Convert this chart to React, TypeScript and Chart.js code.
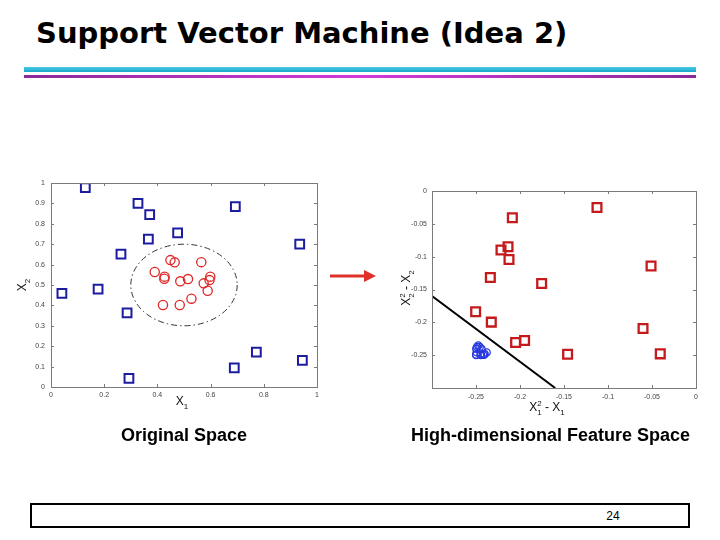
import React, { useEffect, useRef } from "react";
import { Chart, registerables } from "chart.js";
Chart.register(...registerables);

// ---------- data: original space ----------
const origSquareX = [0.129, 0.327, 0.371, 0.693, 0.476, 0.366, 0.263, 0.935, 0.041, 0.177, 0.286, 0.293, 0.689, 0.772, 0.945];
const origSquareY = [0.977, 0.900, 0.845, 0.884, 0.756, 0.725, 0.651, 0.700, 0.459, 0.480, 0.363, 0.042, 0.094, 0.171, 0.130];
const origCircleX = [0.449, 0.465, 0.565, 0.390, 0.427, 0.426, 0.486, 0.515, 0.599, 0.596, 0.574, 0.589, 0.528, 0.421, 0.484];
const origCircleY = [0.622, 0.611, 0.612, 0.564, 0.541, 0.531, 0.518, 0.529, 0.541, 0.524, 0.508, 0.472, 0.433, 0.402, 0.402];
const boundaryCenter = [0.5, 0.5];
const boundaryRadius = 0.2;
const origXTicks = [0, 0.2, 0.4, 0.6, 0.8, 1];
const origYTicks = [0, 0.1, 0.2, 0.3, 0.4, 0.5, 0.6, 0.7, 0.8, 0.9, 1];

// ---------- data: feature space ----------
const featSquareX = [-0.1125, -0.2087, -0.2136, -0.2216, -0.2125, -0.0511, -0.2337, -0.1754, -0.2504, -0.2326, -0.0602, -0.2050, -0.1948, -0.1459, -0.0406];
const featSquareY = [-0.0250, -0.0406, -0.0849, -0.0899, -0.1042, -0.1143, -0.1316, -0.1408, -0.1839, -0.1997, -0.2093, -0.2307, -0.2276, -0.2485, -0.2480];
const featCircleX = [-0.2474, -0.2488, -0.2458, -0.2379, -0.2447, -0.2445, -0.2498, -0.2498, -0.2402, -0.2408, -0.2445, -0.2421, -0.2492, -0.2438, -0.2497];
const featCircleY = [-0.2351, -0.2377, -0.2375, -0.2459, -0.2483, -0.2490, -0.2497, -0.2492, -0.2483, -0.2494, -0.2499, -0.2492, -0.2455, -0.2404, -0.2404];
const separatorX = [-0.3, -0.16];
const separatorY = [-0.16, -0.3];
const featXTicks = [-0.25, -0.2, -0.15, -0.1, -0.05, 0];
const featYTicks = [0, -0.05, -0.1, -0.15, -0.2, -0.25];

const AXIS_FONT = "'Liberation Sans', Arial, sans-serif";

type Seg = [string, number, number][];

function drawRichText(ctx: CanvasRenderingContext2D, segs: Seg[], x: number, y: number, rotate: boolean) {
  ctx.save();
  ctx.translate(x, y);
  if (rotate) ctx.rotate(-Math.PI / 2);
  ctx.fillStyle = "#111";
  ctx.textBaseline = "alphabetic";
  ctx.textAlign = "left";
  const widths = segs.map((seg) =>
    Math.max(...seg.map(([t, s]) => { ctx.font = `${s}px ${AXIS_FONT}`; return ctx.measureText(t).width; }))
  );
  const total = widths.reduce((a, b) => a + b, 0);
  let cx = -total / 2;
  segs.forEach((seg, i) => {
    seg.forEach(([t, s, dy]) => {
      ctx.font = `${s}px ${AXIS_FONT}`;
      ctx.fillText(t, cx, dy);
    });
    cx += widths[i];
  });
  ctx.restore();
}

const framePlugin = {
  id: "frame",
  beforeDatasetsDraw(chart: any, _a: any, opts: any) {
    if (!opts || !opts.ellipse) return;
    const { ctx, scales } = chart;
    const cx = scales.x.getPixelForValue(boundaryCenter[0]);
    const cy = scales.y.getPixelForValue(boundaryCenter[1]);
    const rx = scales.x.getPixelForValue(boundaryCenter[0] + boundaryRadius) - cx;
    const ry = cy - scales.y.getPixelForValue(boundaryCenter[1] + boundaryRadius);
    ctx.save();
    ctx.strokeStyle = "#333";
    ctx.lineWidth = 1;
    ctx.setLineDash([6, 3, 1.5, 3]);
    ctx.beginPath();
    ctx.ellipse(cx, cy, rx, ry, 0, 0, Math.PI * 2);
    ctx.stroke();
    ctx.restore();
  },
  afterDraw(chart: any, _a: any, opts: any) {
    if (!opts || !opts.xTicks) return;
    const { ctx, chartArea, scales } = chart;
    const { left, right, top, bottom } = chartArea;
    ctx.save();
    ctx.strokeStyle = "#7a7a7a";
    ctx.lineWidth = 1;
    ctx.strokeRect(Math.round(left) + 0.5, Math.round(top) + 0.5, Math.round(right - left), Math.round(bottom - top));
    ctx.beginPath();
    opts.xTicks.forEach((v: number) => {
      const px = Math.round(scales.x.getPixelForValue(v)) + 0.5;
      ctx.moveTo(px, bottom); ctx.lineTo(px, bottom - 3);
      ctx.moveTo(px, top); ctx.lineTo(px, top + 3);
    });
    opts.yTicks.forEach((v: number) => {
      const py = Math.round(scales.y.getPixelForValue(v)) + 0.5;
      ctx.moveTo(left, py); ctx.lineTo(left + 3, py);
      ctx.moveTo(right, py); ctx.lineTo(right - 3, py);
    });
    ctx.stroke();
    ctx.restore();
    drawRichText(ctx, opts.xTitle, opts.xTitlePos[0], opts.xTitlePos[1], false);
    drawRichText(ctx, opts.yTitle, opts.yTitlePos[0], opts.yTitlePos[1], true);
  },
};

function pts(xs: number[], ys: number[]) {
  return xs.map((x, i) => ({ x, y: ys[i] }));
}

function axis(min: number, max: number, ticks: number[], fit: (s: any) => void, padding: number) {
  return {
    type: "linear" as const,
    min,
    max,
    afterBuildTicks: (s: any) => { s.ticks = ticks.map((v) => ({ value: v })); },
    afterFit: fit,
    grid: { display: false, drawTicks: false },
    border: { display: false },
    ticks: {
      autoSkip: false,
      maxRotation: 0,
      padding,
      color: "#444",
      font: { size: 7, family: AXIS_FONT },
      callback: (v: any) => String(v),
    },
  };
}

function OriginalChart() {
  const ref = useRef<HTMLCanvasElement>(null);
  useEffect(() => {
    const chart = new Chart(ref.current!, {
      type: "scatter",
      data: {
        datasets: [
          {
            data: pts(origSquareX, origSquareY),
            pointStyle: "rect",
            pointRadius: 6.2,
            borderColor: "#1c1ca0",
            backgroundColor: "rgba(0,0,0,0)",
            borderWidth: 2,
          },
          {
            data: pts(origCircleX, origCircleY),
            pointStyle: "circle",
            pointRadius: 4.6,
            borderColor: "#e02424",
            backgroundColor: "rgba(0,0,0,0)",
            borderWidth: 1.3,
          },
        ],
      },
      options: {
        responsive: false,
        animation: false,
        devicePixelRatio: 1,
        layout: { padding: { top: 23, right: 23, left: 21, bottom: 23 } },
        plugins: {
          legend: { display: false },
          tooltip: { enabled: false },
          frame: {
            ellipse: true,
            xTicks: origXTicks,
            yTicks: origYTicks,
            xTitle: [[["X", 12, 0]], [["1", 8, 4]]],
            xTitlePos: [182, 245],
            yTitle: [[["X", 12, 0]], [["2", 8, 4]]],
            yTitlePos: [26, 125],
          },
        } as any,
        scales: {
          x: axis(0, 1, origXTicks, (s: any) => { s.height = 20; }, 4),
          y: axis(0, 1, origYTicks, (s: any) => { s.width = 30; }, 6),
        },
      },
      plugins: [framePlugin],
    });
    return () => chart.destroy();
  }, []);
  return <canvas ref={ref} width={340} height={270} style={{ position: "absolute", left: 0, top: 160 }} />;
}

function FeatureChart() {
  const ref = useRef<HTMLCanvasElement>(null);
  useEffect(() => {
    const chart = new Chart(ref.current!, {
      type: "scatter",
      data: {
        datasets: [
          {
            data: pts(separatorX, separatorY),
            showLine: true,
            pointRadius: 0,
            borderColor: "#000",
            borderWidth: 2,
          },
          {
            data: pts(featSquareX, featSquareY),
            pointStyle: "rect",
            pointRadius: 6.2,
            borderColor: "#c41a1c",
            backgroundColor: "rgba(0,0,0,0)",
            borderWidth: 2.3,
          },
          {
            data: pts(featCircleX, featCircleY),
            pointStyle: "circle",
            pointRadius: 3.6,
            borderColor: "#2a3ae0",
            backgroundColor: "rgba(0,0,0,0)",
            borderWidth: 1.3,
          },
        ],
      },
      options: {
        responsive: false,
        animation: false,
        devicePixelRatio: 1,
        layout: { padding: { top: 21, right: 24, left: 22, bottom: 12 } },
        plugins: {
          legend: { display: false },
          tooltip: { enabled: false },
          frame: {
            xTicks: featXTicks,
            yTicks: featYTicks,
            xTitle: [[["X", 12, 0]], [["2", 8, -5], ["1", 8, 4]], [[" - X", 12, 0]], [["1", 8, 4]]],
            xTitlePos: [167, 241],
            yTitle: [[["X", 12, 0]], [["2", 8, -5], ["2", 8, 4]], [[" - X", 12, 0]], [["2", 8, 4]]],
            yTitlePos: [30, 118],
          },
        } as any,
        scales: {
          x: axis(-0.3, 0, featXTicks, (s: any) => { s.height = 20; }, 5),
          y: axis(-0.3, 0, featYTicks, (s: any) => { s.width = 30; }, 5),
        },
      },
      plugins: [framePlugin],
    });
    return () => chart.destroy();
  }, []);
  return <canvas ref={ref} width={340} height={250} style={{ position: "absolute", left: 380, top: 170 }} />;
}

export default function App() {
  return (
    <div style={{ position: "absolute", left: 0, top: 0, width: 720, height: 540, background: "#fff", overflow: "hidden" }}>
      <div
        style={{
          position: "absolute",
          left: 36,
          top: 19,
          fontFamily: "'DejaVu Sans', sans-serif",
          fontWeight: "bold",
          fontSize: 29,
          lineHeight: "29px",
          color: "#000",
          whiteSpace: "nowrap",
        }}
      >
        Support Vector Machine (Idea 2)
      </div>
      <div style={{ position: "absolute", left: 24, top: 67, width: 672, height: 5, background: "linear-gradient(#48cce6, #1aa6c8)" }} />
      <div style={{ position: "absolute", left: 24, top: 75, width: 672, height: 3, background: "linear-gradient(90deg, #8a2a98, #d43ad8 50%, #8a2a98)" }} />
      <OriginalChart />
      <FeatureChart />
      <svg style={{ position: "absolute", left: 325, top: 266 }} width={60} height={20}>
        <line x1={5} y1={10} x2={42} y2={10} stroke="#e0302a" strokeWidth={3} />
        <polygon points="39,4 51,10 39,16" fill="#e0302a" />
      </svg>
      <div style={{ position: "absolute", left: 121, top: 426, fontFamily: "'Liberation Sans', Arial, sans-serif", fontWeight: "bold", fontSize: 18, lineHeight: "18px", whiteSpace: "nowrap" }}>
        Original Space
      </div>
      <div style={{ position: "absolute", left: 411, top: 426, fontFamily: "'Liberation Sans', Arial, sans-serif", fontWeight: "bold", fontSize: 18, lineHeight: "18px", whiteSpace: "nowrap" }}>
        High-dimensional Feature Space
      </div>
      <div style={{ position: "absolute", left: 30, top: 503, width: 656, height: 21, border: "2px solid #000" }} />
      <div style={{ position: "absolute", left: 563, width: 100, top: 510, textAlign: "center", fontFamily: "'Liberation Sans', Arial, sans-serif", fontSize: 12, lineHeight: "12px" }}>
        24
      </div>
    </div>
  );
}
